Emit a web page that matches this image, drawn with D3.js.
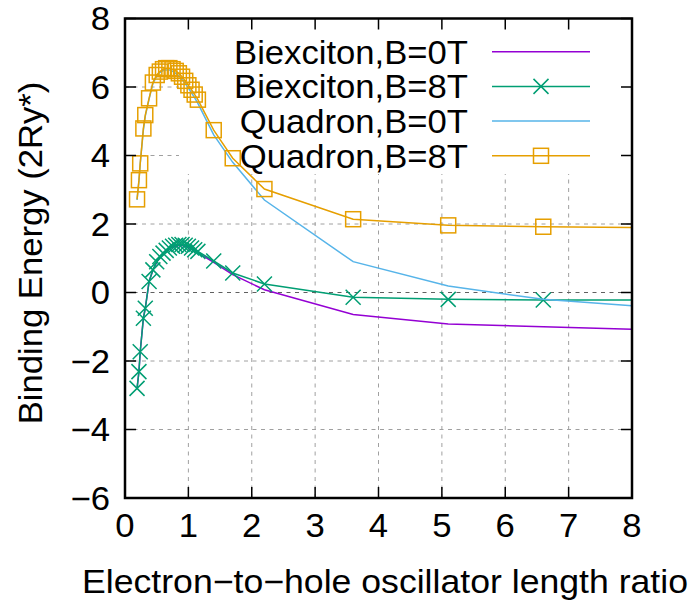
<!DOCTYPE html>
<html>
<head>
<meta charset="utf-8">
<script src="https://cdn.jsdelivr.net/npm/d3@7"></script>
<style>
  body { margin: 0; background: #fff; }
  svg text { font-family: "Liberation Sans", Arial, sans-serif; }
</style>
</head>
<body>
<svg id="chart" width="697" height="610"></svg>
<script>
// ratio values shared by all four curves
let ratio = [0.19, 0.22, 0.24, 0.29, 0.32, 0.38, 0.44, 0.5, 0.55, 0.6, 0.65, 0.7, 0.75, 0.8, 0.85, 0.9, 0.95, 1.0, 1.05, 1.1, 1.15, 1.4, 1.7, 2.2, 3.6, 5.1, 6.6, 8.0]
let biex0 = [-2.8, -2.31, -1.73, -0.75, -0.46, 0.32, 0.65, 0.88, 1.03, 1.13, 1.21, 1.28, 1.32, 1.35, 1.37, 1.37, 1.35, 1.32, 1.27, 1.22, 1.16, 0.88, 0.52, 0.08, -0.64, -0.92, -1.0, -1.07]
let biex8 = [-2.8, -2.31, -1.73, -0.75, -0.46, 0.32, 0.66, 0.9, 1.05, 1.15, 1.23, 1.3, 1.35, 1.38, 1.4, 1.4, 1.38, 1.35, 1.3, 1.25, 1.2, 0.92, 0.57, 0.25, -0.14, -0.2, -0.22, -0.22]
let quad0 = [2.7, 3.25, 3.75, 4.75, 5.15, 5.65, 6.1, 6.32, 6.42, 6.48, 6.5, 6.5, 6.46, 6.4, 6.32, 6.22, 6.1, 5.97, 5.83, 5.68, 5.52, 4.6, 3.8, 2.7, 0.9, 0.19, -0.2, -0.39]
let quad8 = [2.72, 3.28, 3.77, 4.79, 5.18, 5.67, 6.13, 6.35, 6.45, 6.52, 6.55, 6.55, 6.52, 6.47, 6.4, 6.3, 6.18, 6.05, 5.92, 5.78, 5.63, 4.74, 3.92, 3.02, 2.14, 1.96, 1.92, 1.9]

let xTicks = [0, 1, 2, 3, 4, 5, 6, 7, 8]
let yTicks = [-6, -4, -2, 0, 2, 4, 6, 8]

let series = [
    {name: "Biexciton,B=0T", values: biex0, color: "#9400d3", marker: null},
    {name: "Biexciton,B=8T", values: biex8, color: "#009e73", marker: "cross"},
    {name: "Quadron,B=0T", values: quad0, color: "#56b4e9", marker: null},
    {name: "Quadron,B=8T", values: quad8, color: "#e69f00", marker: "square"},
]

let marginLeft = 125, marginRight = 65, marginTop = 18.5, marginBottom = 112
let W = 697, H = 610
let FONT = 33, STRETCH = 1.05, TICK = 11
let BASE = FONT * 0.358

let svg = d3.select("#chart")
let x = d3.scaleLinear([0, 8], [marginLeft, W - marginRight])
let y = d3.scaleLinear([-6, 8], [H - marginBottom, marginTop])

function label(g, txt, px, py, anchor, rot = 0, sx = STRETCH) {
    return g.append("text")
        .attr("transform", `translate(${px},${py}) rotate(${rot}) scale(${sx},1)`)
        .attr("text-anchor", anchor)
        .attr("font-size", FONT)
        .text(txt)
}

// grid
let grid = svg.append("g")
grid.selectAll(".gx").data(xTicks.slice(1, -1)).join("line")
    .attr("x1", d => x(d)).attr("x2", d => x(d))
    .attr("y1", y(-6)).attr("y2", y(8))
    .attr("stroke", "#a0a0a0").attr("stroke-dasharray", "4,4.5")
grid.selectAll(".gy").data(yTicks.slice(1, -1)).join("line")
    .attr("x1", x(0)).attr("x2", x(8))
    .attr("y1", d => y(d)).attr("y2", d => y(d))
    .attr("stroke", d => d === 0 ? "#606060" : "#a0a0a0")
    .attr("stroke-dasharray", "4,4.5")

// opaque key box
let keyX = 179, keyY = marginTop, keyRight = 468, rowH = 34.7
svg.append("rect")
    .attr("x", keyX).attr("y", keyY)
    .attr("width", x(8) - keyX).attr("height", 174 - keyY)
    .attr("fill", "#fff")

// curves
let clip = svg.append("clipPath").attr("id", "plotclip").append("rect")
    .attr("x", x(0)).attr("y", y(8)).attr("width", x(8) - x(0)).attr("height", y(-6) - y(8))
let plot = svg.append("g").attr("clip-path", "url(#plotclip)")
let line = d3.line().x(d => x(d[0])).y(d => y(d[1]))

function drawMarker(g, kind, color, cx, cy) {
    if (kind === "square") {
        g.append("rect").attr("x", cx - 7.5).attr("y", cy - 7.5)
            .attr("width", 15).attr("height", 15)
            .attr("fill", "none").attr("stroke", color).attr("stroke-width", 1.5)
    } else if (kind === "cross") {
        let s = 7.5
        g.append("path")
            .attr("d", `M${cx - s},${cy - s}L${cx + s},${cy + s}M${cx - s},${cy + s}L${cx + s},${cy - s}`)
            .attr("stroke", color).attr("stroke-width", 1.5)
    }
}

series.forEach(s => {
    let pts = ratio.map((r, i) => [r, s.values[i]])
    plot.append("path").attr("d", line(pts))
        .attr("fill", "none").attr("stroke", s.color).attr("stroke-width", 1.5)
    if (s.marker) {
        // like gnuplot, skip markers touching the border
        pts.filter(p => x(p[0]) < x(8) - 8 && x(p[0]) > x(0) + 2)
            .forEach(p => drawMarker(plot, s.marker, s.color, x(p[0]), y(p[1])))
    }
})

// key
let key = svg.append("g")
series.forEach((s, i) => {
    let ry = 51.7 + i * rowH
    label(key, s.name, keyRight, ry + BASE, "end")
    key.append("line").attr("x1", 492).attr("x2", 590).attr("y1", ry).attr("y2", ry)
        .attr("stroke", s.color).attr("stroke-width", 1.5)
    if (s.marker) drawMarker(key, s.marker, s.color, 541, ry)
})

// border and ticks (mirrored)
let axes = svg.append("g").attr("stroke", "#000")
xTicks.forEach(t => {
    axes.append("line").attr("x1", x(t)).attr("x2", x(t)).attr("y1", y(-6)).attr("y2", y(-6) - TICK).attr("stroke-width", 1.5)
    axes.append("line").attr("x1", x(t)).attr("x2", x(t)).attr("y1", y(8)).attr("y2", y(8) + TICK).attr("stroke-width", 1.5)
})
yTicks.forEach(t => {
    axes.append("line").attr("x1", x(0)).attr("x2", x(0) + TICK).attr("y1", y(t)).attr("y2", y(t)).attr("stroke-width", 1.5)
    axes.append("line").attr("x1", x(8)).attr("x2", x(8) - TICK).attr("y1", y(t)).attr("y2", y(t)).attr("stroke-width", 1.5)
})
axes.append("rect")
    .attr("x", x(0)).attr("y", y(8)).attr("width", x(8) - x(0)).attr("height", y(-6) - y(8))
    .attr("fill", "none").attr("stroke-width", 2.5)

// tick labels
let labels = svg.append("g")
xTicks.forEach(t => label(labels, String(t), x(t), 537, "middle"))
yTicks.forEach(t => label(labels, String(t).replace("-", "\u2212"), 110, y(t) + BASE, "end"))

// axis titles
label(labels, "Electron\u2212to\u2212hole oscillator length ratio", 385, 593, "middle", 0, 1.08)
label(labels, "Binding Energy (2Ry*)", 42, 253, "middle", -90)
</script>
</body>
</html>
